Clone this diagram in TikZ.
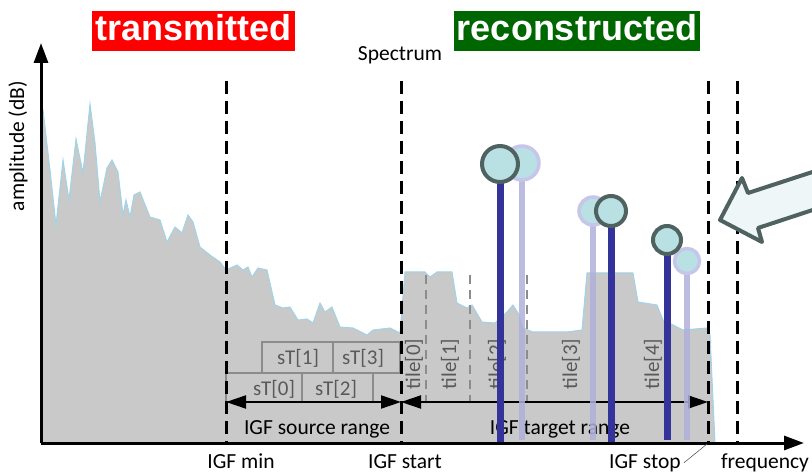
\documentclass[tikz,border=0pt]{standalone}
\usepackage{fontspec}
\setmainfont{Carlito}
\newfontfamily\titlefont{Liberation Sans}
\usetikzlibrary{arrows.meta}
\definecolor{specgray}{RGB}{201,201,201}
\definecolor{specline}{RGB}{160,212,232}
\definecolor{txred}{RGB}{255,0,0}
\definecolor{rcgreen}{RGB}{0,102,0}
\definecolor{stemblue}{RGB}{51,51,153}
\definecolor{ghostblue}{RGB}{176,176,218}
\definecolor{headcyan}{RGB}{185,224,226}
\definecolor{headrim}{RGB}{79,98,96}
\definecolor{ghostrim}{RGB}{198,198,234}
\definecolor{bigarrow}{RGB}{238,246,248}
\definecolor{labelgray}{RGB}{89,89,89}
\definecolor{boxgray}{RGB}{140,140,140}

\begin{document}
\begin{tikzpicture}[x=1pt,y=-1pt,
  lbl/.style={font=\fontsize{21.5}{24}\selectfont},
  foot/.style={font=\fontsize{21.5}{24}\selectfont,inner sep=1pt,anchor=base},
  grylbl/.style={font=\fontsize{21}{24}\selectfont,text=labelgray},
  title/.style={font=\titlefont\bfseries\fontsize{36}{40}\selectfont,text=white,
    inner xsep=3pt,inner ysep=3pt,text height=27pt,text depth=7pt},
  axis/.style={line width=3pt,-{Triangle[length=20pt,width=14pt]}},
  limit/.style={line width=3pt,dash pattern=on 13pt off 7pt},
  tiledash/.style={line width=2.5pt,boxgray,dash pattern=on 9pt off 6pt},
  stbox/.style={line width=2.5pt,boxgray},
  rangearrow/.style={line width=2pt,{Triangle[length=20pt,width=13pt]}-{Triangle[length=20pt,width=13pt]}},
  stem/.style={line width=7pt,stemblue},
  ghoststem/.style={line width=6pt,ghostblue,opacity=0.85},
  head/.style={circle,draw=headrim,fill=headcyan,line width=4pt,inner sep=0pt},
  ghosthead/.style={circle,draw=ghostrim,fill=headcyan,line width=3.5pt,inner sep=0pt}]
\useasboundingbox (0,0) rectangle (812,473);

% spectrum
\path[fill=specgray,draw=specline,line width=1pt]
  (41,443) -- (41,112) -- (43,110) -- (50,170) -- (56,225) -- (63,160) -- (69,200) -- (76,139)
  -- (83,173) -- (90,104) -- (95,143) -- (100,202) -- (107,168) -- (112,160) -- (118,172)
  -- (123,215) -- (126,200) -- (130,217) -- (134,195) -- (140,192) -- (150,217) -- (160,220)
  -- (167,242) -- (175,227) -- (182,233) -- (188,215) -- (193,222) -- (200,247) -- (210,255)
  -- (220,262) -- (226,270) -- (237,265) -- (243,270) -- (248,267) -- (252,277) -- (258,268)
  -- (267,270) -- (275,305) -- (283,308) -- (290,307) -- (298,320) -- (307,319) -- (313,323)
  -- (320,303) -- (325,312) -- (332,307) -- (340,327) -- (353,328) -- (367,335) -- (373,330)
  -- (390,328) -- (400,333) -- (405,272) -- (425,272) -- (430,277) -- (437,272) -- (452,272)
  -- (457,303) -- (467,308) -- (472,305) -- (482,322) -- (495,323) -- (507,312) -- (513,305)
  -- (518,313) -- (523,328) -- (533,332) -- (567,332) -- (582,330) -- (587,273) -- (633,273)
  -- (638,302) -- (657,305) -- (663,320) -- (683,330) -- (707,328) -- (710,335) -- (713,400)
  -- (715,443) -- cycle;

% tiles and source tiles
\foreach \x in {426,470,527}
  \draw[tiledash] (\x,275) -- (\x,402);
\draw[stbox] (262,342) rectangle (400,373) (333,342) -- (333,373);
\draw[stbox] (226,373) rectangle (373,402) (302,373) -- (302,402);
\node[grylbl] (st1) at (298,358) {sT[1]};
\node[grylbl] (st3) at (363,358) {sT[3]};
\node[grylbl] (st0) at (274,389) {sT[0]};
\node[grylbl] (st2) at (336,389) {sT[2]};
\node[grylbl,rotate=90] (t0) at (414,364) {tile[0]};
\node[grylbl,rotate=90] (t1) at (450,364) {tile[1]};
\node[grylbl,rotate=90] (t2) at (497,364) {tile[2]};
\node[grylbl,rotate=90] (t3) at (571,364) {tile[3]};
\node[grylbl,rotate=90] (t4) at (653,364) {tile[4]};

% borders
\foreach \x in {226,401,708,737}
  \draw[limit] (\x,81) -- (\x,443);

% axes
\coordinate (origin) at (41,443);
\coordinate (ytip) at (41,43);
\coordinate (xtip) at (804,443);
\draw[axis] (origin) -- (ytip);
\draw[axis] (origin) -- (xtip);
\node[lbl,rotate=90] (amp) at (18,146) {amplitude (dB)};

% ranges
\coordinate (srcL) at (226,402);
\coordinate (srcR) at (401,402);
\coordinate (tgtR) at (708,402);
\draw[rangearrow] (srcL) -- (srcR);
\draw[rangearrow] (srcR) -- (tgtR);
\node[lbl] (srcrange) at (317,429) {IGF source range};
\node[lbl] (tgtrange) at (560,429) {IGF target range};

% lines
\coordinate (g1) at (522,163);
\coordinate (g2) at (593,211);
\coordinate (g3) at (687,261);
\coordinate (g1b) at (522,440);
\coordinate (g2b) at (593,440);
\coordinate (g3b) at (687,440);
\draw[ghoststem] (g1) -- (g1b);
\draw[ghoststem] (g2) -- (g2b);
\draw[ghoststem] (g3) -- (g3b);
\node[ghosthead,minimum size=34pt] (gh1) at (g1) {};
\node[ghosthead,minimum size=28pt] (gh2) at (g2) {};
\node[ghosthead,minimum size=25pt] (gh3) at (g3) {};
\coordinate (p1) at (500,164);
\coordinate (p2) at (611,211);
\coordinate (p3) at (667,240);
\coordinate (p1b) at (500,442);
\coordinate (p2b) at (611,442);
\coordinate (p3b) at (667,440);
\draw[stem] (p1) -- (p1b);
\draw[stem] (p2) -- (p2b);
\draw[stem] (p3) -- (p3b);
\node[head,minimum size=36pt] (h1) at (p1) {};
\node[head,minimum size=30pt] (h2) at (p2) {};
\node[head,minimum size=28pt] (h3) at (p3) {};

% labels
\node[lbl] (spectrum) at (400,55) {Spectrum};
\node[title,fill=txred] (tx) at (193.5,31) {transmitted};
\node[title,fill=rcgreen] (rc) at (577,31) {reconstructed};
\node[foot] (igfmin) at (241,468) {IGF min};
\node[foot] (igfstart) at (405,468) {IGF start};
\node[foot] (igfstop) at (645,468) {IGF stop};
\node[foot] (freq) at (765,468) {frequency};
\coordinate (stopfoot) at (707,444);
\draw[line width=0.6pt,labelgray] ([xshift=2pt]igfstop.east) -- (stopfoot);

% big arrow
\draw[line width=4pt,draw=headrim,fill=bigarrow,line join=round]
  (720,220) -- (742,178) -- (748,193) -- (840,163) -- (840,201) -- (758,228) -- (762,242) -- cycle;
\end{tikzpicture}
\end{document}
